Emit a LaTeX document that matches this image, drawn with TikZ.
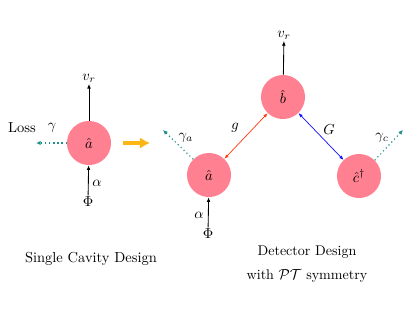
\documentclass[tikz,border=0pt]{standalone}
\usetikzlibrary{arrows.meta}
\definecolor{cavpink}{RGB}{255,128,145}
\definecolor{lossteal}{RGB}{30,145,140}
\definecolor{bigarrow}{RGB}{255,182,20}
\definecolor{gred}{RGB}{255,60,20}
\definecolor{Gblue}{RGB}{20,20,255}
\begin{document}
\begin{tikzpicture}[x=0.69pt,y=-0.69pt,
  cav/.style={circle,fill=cavpink,minimum size=30.4pt,inner sep=0pt},
  lbl/.style={inner sep=1pt},
  sig/.style={-{Latex[length=3.2pt,width=2.6pt]},line width=0.6pt,black},
  loss/.style={-{Latex[length=3.2pt,width=3pt]},line width=0.8pt,lossteal,dotted},
  coup/.style={{Latex[length=3pt,width=2.4pt]}-{Latex[length=3pt,width=2.4pt]},line width=0.5pt}]
\useasboundingbox (0,0) rectangle (415,312);
% single cavity
\node[cav] (a1) at (89,143) {$\hat a$};
\node[lbl] (vr1) at (89,78) {$v_r$};
\node[lbl] (phi1) at (88,202) {$\Phi$};
\node[lbl] (al1) at (97,183) {$\alpha$};
\coordinate (l1) at (36,143);
\node[lbl] (g1) at (52,128) {$\gamma$};
\node[lbl] (loss) at (22,128) {Loss};
\draw[sig] (a1) -- (vr1);
\draw[sig] (phi1) -- (a1);
\draw[loss] (a1) -- (l1);
% big arrow
\coordinate (ya) at (123,143);
\coordinate (yb) at (150,143);
\draw[-{Latex[length=7pt,width=8pt]},line width=2.8pt,bigarrow] (ya) -- (yb);
% detector
\node[cav] (a2) at (209,175) {$\hat a$};
\node[cav] (b2) at (283,97) {$\hat b$};
\node[cav] (c2) at (359,176) {$\hat c^{\dagger}$};
\node[lbl] (vr2) at (284,35) {$v_r$};
\node[lbl] (phi2) at (208,234) {$\Phi$};
\node[lbl] (al2) at (199,215) {$\alpha$};
\node[lbl] (gl) at (235,128) {$g$};
\node[lbl] (Gl) at (329,130) {$G$};
\coordinate (la) at (163,130);
\coordinate (lc) at (403,130);
\node[lbl] (gla) at (186,138) {$\gamma_a$};
\node[lbl] (glc) at (382,138) {$\gamma_c$};
\draw[sig] (b2) -- (vr2);
\draw[sig] (phi2) -- (a2);
\draw[coup,gred] (a2) -- (b2);
\draw[coup,Gblue] (b2) -- (c2);
\draw[loss] (a2.135) -- (la);
\draw[loss] (c2.45) -- (lc);
% captions
\node[lbl] (cap1) at (91,259) {Single Cavity Design};
\node[lbl,font=\fontsize{9.7}{12}\selectfont] (cap2) at (307,252) {Detector Design};
\node[lbl,font=\fontsize{9.7}{12}\selectfont] (cap3) at (307,276) {with $\mathcal{PT}$ symmetry};
\end{tikzpicture}
\end{document}
